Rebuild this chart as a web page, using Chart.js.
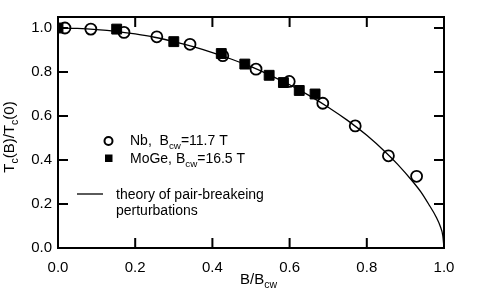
<!DOCTYPE html>
<html>
<head>
<meta charset="utf-8">
<script src="https://cdn.jsdelivr.net/npm/chart.js@4.4.0/dist/chart.umd.min.js"></script>
<style>
  html, body { margin: 0; padding: 0; background: #fff; }
  #wrap { width: 485px; height: 301px; }
</style>
</head>
<body>
<div id="wrap"><canvas id="tcChart" width="485" height="301"></canvas></div>
<script>
// Nb, Bcw = 11.7 T (open circles)
const nbX = [0.018, 0.085, 0.171, 0.256, 0.342, 0.427, 0.513, 0.599, 0.686, 0.770, 0.856, 0.929];
const nbY = [1.000, 0.995, 0.980, 0.960, 0.926, 0.874, 0.813, 0.757, 0.658, 0.555, 0.419, 0.326];

// MoGe, Bcw = 16.5 T (filled squares)
const mogeX = [0.000, 0.152, 0.300, 0.423, 0.484, 0.547, 0.584, 0.625, 0.666];
const mogeY = [1.000, 0.995, 0.938, 0.884, 0.836, 0.785, 0.752, 0.716, 0.700];

// theory of pair-breaking perturbations
const theoryX = [0, 0.05, 0.10, 0.15, 0.20, 0.25, 0.30, 0.35, 0.40, 0.45, 0.50, 0.55, 0.60,
                 0.65, 0.70, 0.75, 0.80, 0.85, 0.88, 0.92, 0.94, 0.96, 0.98, 0.99, 0.997, 1.0];
const theoryY = [1.000, 0.998, 0.993, 0.985, 0.973, 0.958, 0.938, 0.915, 0.888, 0.858, 0.824, 0.785, 0.742,
                 0.694, 0.640, 0.580, 0.512, 0.433, 0.380, 0.300, 0.255, 0.200, 0.140, 0.100, 0.055, 0.0];

const xTickLabels = ['0.0', '0.2', '0.4', '0.6', '0.8', '1.0'];
const yTickLabels = ['0.0', '0.2', '0.4', '0.6', '0.8', '1.0'];
const tickVals = [0, 0.2, 0.4, 0.6, 0.8, 1.0];

const FONT = '"Liberation Sans", Arial, sans-serif';

function pts(xs, ys) {
  return xs.map((x, i) => ({ x: x, y: ys[i] }));
}

// text with subscripts: parts = [[text, isSub], ...]
function richText(ctx, parts, x, y, size) {
  let cx = x;
  parts.forEach(p => {
    if (p[1]) {
      ctx.font = (size * 0.7) + 'px ' + FONT;
      ctx.fillText(p[0], cx, y + size * 0.28);
    } else {
      ctx.font = size + 'px ' + FONT;
      ctx.fillText(p[0], cx, y);
    }
    cx += ctx.measureText(p[0]).width;
  });
  return cx - x;
}
function richWidth(ctx, parts, size) {
  let w = 0;
  parts.forEach(p => {
    ctx.font = (p[1] ? size * 0.7 : size) + 'px ' + FONT;
    w += ctx.measureText(p[0]).width;
  });
  return w;
}

const frame = {
  id: 'frame',
  afterDraw(chart) {
    const ctx = chart.ctx;
    const a = chart.chartArea;
    const xs = chart.scales.x, ys = chart.scales.y;
    ctx.save();
    ctx.strokeStyle = '#000';
    ctx.fillStyle = '#000';
    ctx.lineWidth = 2;
    ctx.strokeRect(a.left, a.top, a.right - a.left, a.bottom - a.top);

    // inward ticks on all four sides
    const tl = 10;
    ctx.beginPath();
    tickVals.forEach(v => {
      if (v > 0 && v < 1) {
        const px = xs.getPixelForValue(v);
        ctx.moveTo(px, a.bottom); ctx.lineTo(px, a.bottom - tl);
        ctx.moveTo(px, a.top); ctx.lineTo(px, a.top + tl);
      }
      if (v > 0) {
        const py = ys.getPixelForValue(v);
        ctx.moveTo(a.left, py); ctx.lineTo(a.left + tl, py);
        ctx.moveTo(a.right, py); ctx.lineTo(a.right - tl, py);
      }
    });
    ctx.stroke();

    // axis titles
    ctx.textBaseline = 'alphabetic';
    ctx.textAlign = 'left';
    const xt = [['B/B', false], ['cw', true]];
    richText(ctx, xt, 240, 284, 15);

    const yt = [['T', false], ['c', true], ['(B)/T', false], ['c', true], ['(0)', false]];
    const yw = richWidth(ctx, yt, 15);
    ctx.save();
    ctx.translate(14, 137);
    ctx.rotate(-Math.PI / 2);
    richText(ctx, yt, -yw / 2, 0, 15);
    ctx.restore();

    // legend
    ctx.lineWidth = 2;
    ctx.beginPath();
    ctx.arc(108.5, 141, 4, 0, Math.PI * 2);
    ctx.stroke();
    ctx.fillRect(105, 154.5, 7.5, 7.5);
    ctx.lineWidth = 1.3;
    ctx.beginPath();
    ctx.moveTo(77, 194); ctx.lineTo(103, 194);
    ctx.stroke();

    richText(ctx, [['Nb,  B', false], ['cw', true], ['=11.7 T', false]], 130, 145, 14);
    richText(ctx, [['MoGe, B', false], ['cw', true], ['=16.5 T', false]], 130, 163, 14);
    ctx.font = '14px ' + FONT;
    ctx.fillText('theory of pair-breakeing', 116, 198.5);
    ctx.fillText('perturbations', 116, 214.5);
    ctx.restore();
  }
};

const ctx = document.getElementById('tcChart').getContext('2d');
const tcChart = new Chart(ctx, {
  type: 'scatter',
  data: {
    datasets: [
      {
        label: 'Nb',
        data: pts(nbX, nbY),
        pointStyle: 'circle',
        pointRadius: 5.5,
        borderWidth: 1.8,
        borderColor: '#000',
        backgroundColor: 'rgba(0,0,0,0)'
      },
      {
        label: 'MoGe',
        data: pts(mogeX, mogeY),
        pointStyle: 'rect',
        pointRadius: 7,
        borderWidth: 1,
        borderColor: '#000',
        backgroundColor: '#000'
      },
      {
        label: 'theory',
        type: 'line',
        data: pts(theoryX, theoryY),
        borderColor: '#000',
        borderWidth: 1.3,
        pointRadius: 0,
        fill: false,
        cubicInterpolationMode: 'monotone'
      }
    ]
  },
  options: {
    responsive: false,
    animation: false,
    events: [],
    layout: { padding: { top: 17, right: 41, left: 0, bottom: 0 } },
    plugins: {
      legend: { display: false },
      tooltip: { enabled: false }
    },
    scales: {
      x: {
        type: 'linear',
        min: 0, max: 1,
        grid: { display: false, drawTicks: false },
        border: { display: false },
        ticks: {
          stepSize: 0.2,
          padding: 11,
          color: '#000',
          font: { family: FONT, size: 15 },
          maxRotation: 0,
          callback: (v) => xTickLabels[Math.round(v / 0.2)]
        },
        afterFit: (s) => { s.height = 53; }
      },
      y: {
        type: 'linear',
        min: 0, max: 1.05,
        grid: { display: false, drawTicks: false },
        border: { display: false },
        ticks: {
          stepSize: 0.2,
          includeBounds: false,
          padding: 6,
          color: '#000',
          font: { family: FONT, size: 15 },
          callback: (v) => yTickLabels[Math.round(v / 0.2)]
        },
        afterFit: (s) => { s.width = 58; }
      }
    }
  },
  plugins: [frame]
});
</script>
</body>
</html>
